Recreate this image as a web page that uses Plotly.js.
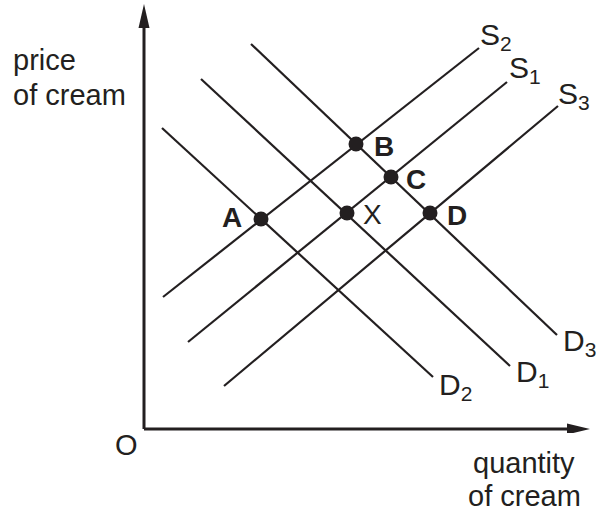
<!DOCTYPE html>
<html>
<head>
<meta charset="utf-8">
<script src="https://cdn.plot.ly/plotly-3.0.1.min.js"></script>
<style>
body{margin:0;background:#fff;}
#myPlot{width:596px;height:511px;}
</style>
</head>
<body>
<div id="myPlot"></div>
<script>
// supply and demand lines, quantity on x, price on y
var s1X = [44, 363],  s1Y = [87, 347];
var s2X = [19, 335],  s2Y = [132, 381];
var s3X = [80, 414],  s3Y = [43, 323];
var d1X = [57, 366],  d1Y = [350, 63];
var d2X = [18, 289],  d2Y = [301, 52];
var d3X = [107, 413], d3Y = [385, 94];

// equilibrium points
var ptNames = ["A", "X", "B", "C", "D"];
var ptX = [117, 203, 212, 247, 286];
var ptY = [210, 216, 285, 252, 216];

var ink = "#231f20";
var fnt = "Liberation Sans, Arial, sans-serif";

function line(x, y){
    return {x:x, y:y, mode:"lines", line:{color:ink, width:2.2}, hoverinfo:"skip"};
}

var data = [
    line(s1X, s1Y), line(s2X, s2Y), line(s3X, s3Y),
    line(d1X, d1Y), line(d2X, d2Y), line(d3X, d3Y),
    {x:ptX, y:ptY, mode:"markers", marker:{color:ink, size:15}, hoverinfo:"skip"}
];

function lab(t, x, y, opts){
    var a = {text:t, x:x, y:y, xref:"x", yref:"y", showarrow:false,
             xanchor:"center", yanchor:"middle",
             font:{family:fnt, size:28, color:ink}};
    for (var k in opts) a[k] = opts[k];
    return a;
}
function sublab(t, x, y){
    return lab(t, x, y, {xanchor:"left", font:{family:fnt, size:30, color:ink}});
}
// axis captions sit outside the plot, so place them on the paper
function cap(t, x, y, anchor){
    return lab(t, x, y, {xref:"paper", yref:"paper", xanchor:anchor,
                         font:{family:fnt, size:29, color:ink}});
}

var annotations = [
    cap("price", -0.281, 0.869, "left"),
    cap("of cream", -0.281, 0.788, "left"),
    cap("quantity", 0.854, -0.069, "center"),
    cap("of cream", 0.854, -0.148, "center"),
    cap("O", -0.0265, -0.028, "center"),
    sublab("S<sub>2</sub>", 334, 393),
    sublab("S<sub>1</sub>", 363, 360),
    sublab("S<sub>3</sub>", 412, 334),
    sublab("D<sub>3</sub>", 417, 87),
    sublab("D<sub>1</sub>", 370, 56),
    sublab("D<sub>2</sub>", 293, 43),
    lab("<b>A</b>", 88, 212),
    lab("<b>B</b>", 240, 283),
    lab("<b>C</b>", 272, 250),
    lab("<b>D</b>", 313, 214),
    lab("X", 228, 215)
];

var shapes = [
    {type:"line", x0:0, y0:0, x1:0, y1:404, line:{color:ink, width:3}},
    {type:"line", x0:0, y0:0, x1:426, y1:0, line:{color:ink, width:3}},
    {type:"path", path:"M -5.5,401 L 0,425 L 5.5,401 Z", fillcolor:ink, line:{width:0}},
    {type:"path", path:"M 423,-5.5 L 446,0 L 423,5.5 Z", fillcolor:ink, line:{width:0}}
];

var axisOff = {showgrid:false, zeroline:false, showticklabels:false, ticks:"", showline:false, fixedrange:true};

var layout = {
    width:596, height:511,
    margin:{l:138, r:6, t:4, b:78},
    paper_bgcolor:"#fff", plot_bgcolor:"#fff",
    showlegend:false,
    xaxis:Object.assign({range:[-6, 446]}, axisOff),
    yaxis:Object.assign({range:[-4, 425]}, axisOff),
    annotations:annotations,
    shapes:shapes
};

Plotly.newPlot("myPlot", data, layout, {displayModeBar:false, staticPlot:true});
</script>
</body>
</html>
